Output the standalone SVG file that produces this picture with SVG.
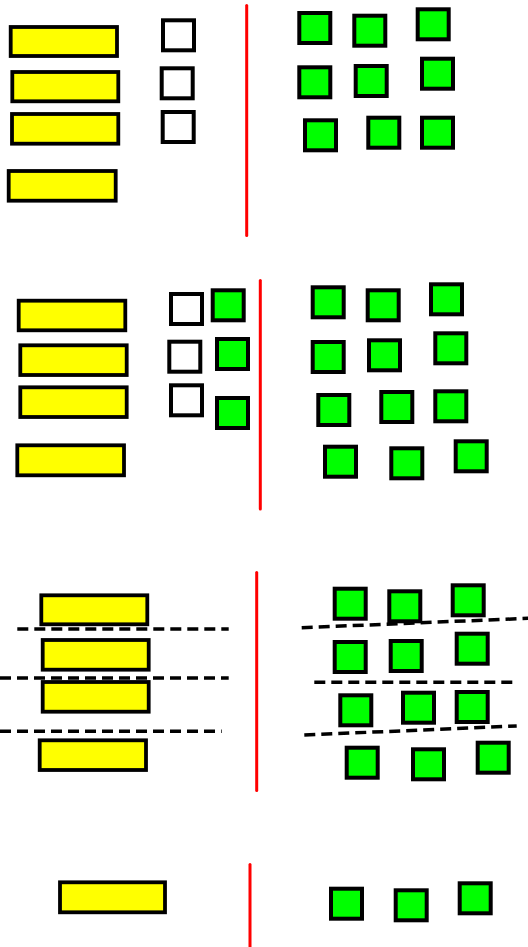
<svg xmlns="http://www.w3.org/2000/svg" width="528" height="947" viewBox="0 0 528 947">
<style>
.y{fill:#ffff00;stroke:#000;stroke-width:3.8}
.w{fill:#fff;stroke:#000;stroke-width:4}
.g{fill:#00ff00;stroke:#000;stroke-width:4}
.r{stroke:#ff0000;stroke-width:3;stroke-linecap:round;fill:none}
.d{stroke:#000;stroke-width:3.5;stroke-dasharray:11 6;fill:none}
</style>
<rect width="528" height="947" fill="#fff"/>
<g id="panel1">
<g id="p1y1"><rect class="y" x="10.7" y="27" width="106.3" height="29"/></g>
<g id="p1y2"><rect class="y" x="12.3" y="72" width="106" height="29.3"/></g>
<g id="p1y3"><rect class="y" x="12" y="114" width="106.3" height="29.7"/></g>
<g id="p1y4"><rect class="y" x="8.7" y="171" width="107" height="29.7"/></g>
<g id="p1w1"><rect class="w" x="163" y="20.3" width="31" height="30"/></g>
<g id="p1w2"><rect class="w" x="161.7" y="68.3" width="31" height="30"/></g>
<g id="p1w3"><rect class="w" x="162.7" y="112" width="31" height="30"/></g>
<g id="p1g1"><rect class="g" x="299.3" y="13" width="31" height="30"/></g>
<g id="p1g2"><rect class="g" x="354.3" y="15.7" width="31" height="30"/></g>
<g id="p1g3"><rect class="g" x="417.7" y="9.3" width="31" height="30"/></g>
<g id="p1g4"><rect class="g" x="299.3" y="67.3" width="31" height="30"/></g>
<g id="p1g5"><rect class="g" x="355.7" y="66" width="31" height="30"/></g>
<g id="p1g6"><rect class="g" x="422" y="58.7" width="31" height="30"/></g>
<g id="p1g7"><rect class="g" x="305" y="120.3" width="31" height="30"/></g>
<g id="p1g8"><rect class="g" x="368.3" y="117.7" width="31" height="30"/></g>
<g id="p1g9"><rect class="g" x="422" y="117.7" width="31" height="30"/></g>
</g>
<g id="panel2">
<g id="p2y1"><rect class="y" x="18.7" y="300.7" width="106.6" height="29.6"/></g>
<g id="p2y2"><rect class="y" x="20.3" y="345.3" width="106.4" height="29.7"/></g>
<g id="p2y3"><rect class="y" x="20.3" y="387.3" width="106.4" height="29.7"/></g>
<g id="p2y4"><rect class="y" x="17.3" y="445.3" width="106.7" height="30"/></g>
<g id="p2w1"><rect class="w" x="171" y="294" width="31" height="30"/></g>
<g id="p2w2"><rect class="w" x="169.3" y="341.7" width="31" height="30"/></g>
<g id="p2w3"><rect class="w" x="171" y="385.3" width="31" height="30"/></g>
<g id="p2ga"><rect class="g" x="212.7" y="290.3" width="31" height="30"/></g>
<g id="p2gb"><rect class="g" x="217" y="339" width="31" height="30"/></g>
<g id="p2gc"><rect class="g" x="217" y="398" width="31" height="30"/></g>
<g id="p2g1"><rect class="g" x="312.7" y="287.3" width="31" height="30"/></g>
<g id="p2g2"><rect class="g" x="367.7" y="290.3" width="31" height="30"/></g>
<g id="p2g3"><rect class="g" x="431" y="284.3" width="31" height="30"/></g>
<g id="p2g4"><rect class="g" x="312.7" y="342" width="31" height="30"/></g>
<g id="p2g5"><rect class="g" x="369" y="340.3" width="31" height="30"/></g>
<g id="p2g6"><rect class="g" x="435.3" y="333.3" width="31" height="30"/></g>
<g id="p2g7"><rect class="g" x="318.3" y="395" width="31" height="30"/></g>
<g id="p2g8"><rect class="g" x="381.3" y="392" width="31" height="30"/></g>
<g id="p2g9"><rect class="g" x="435.3" y="391.3" width="31" height="30"/></g>
<g id="p2g10"><rect class="g" x="325" y="446.7" width="31" height="30"/></g>
<g id="p2g11"><rect class="g" x="391.3" y="448.3" width="31" height="30"/></g>
<g id="p2g12"><rect class="g" x="455.7" y="441.3" width="31" height="30"/></g>
</g>
<g id="panel3">
<g id="p3y1"><rect class="y" x="41.3" y="595.3" width="106" height="29"/></g>
<g id="p3y2"><rect class="y" x="42.7" y="640" width="106" height="29.7"/></g>
<g id="p3y3"><rect class="y" x="42.7" y="682" width="106" height="29.7"/></g>
<g id="p3y4"><rect class="y" x="39.7" y="740.3" width="106.3" height="29.7"/></g>
<g id="p3g1"><rect class="g" x="334.7" y="588.7" width="31" height="30"/></g>
<g id="p3g2"><rect class="g" x="389.3" y="591.3" width="31" height="30"/></g>
<g id="p3g3"><rect class="g" x="452.7" y="585.3" width="31" height="30"/></g>
<g id="p3g4"><rect class="g" x="334.7" y="642" width="31" height="30"/></g>
<g id="p3g5"><rect class="g" x="390.7" y="641" width="31" height="30"/></g>
<g id="p3g6"><rect class="g" x="456.7" y="633.7" width="31" height="30"/></g>
<g id="p3g7"><rect class="g" x="340.3" y="695.3" width="31" height="30"/></g>
<g id="p3g8"><rect class="g" x="403" y="692.7" width="31" height="30"/></g>
<g id="p3g9"><rect class="g" x="456.7" y="692" width="31" height="30"/></g>
<g id="p3g10"><rect class="g" x="346.7" y="747.7" width="31" height="30"/></g>
<g id="p3g11"><rect class="g" x="413" y="749.3" width="31" height="30"/></g>
<g id="p3g12"><rect class="g" x="477.7" y="742.7" width="31" height="30"/></g>
</g>
<g id="panel4">
<g id="p4y1"><rect class="y" x="60" y="882.3" width="105" height="30"/></g>
<g id="p4g1"><rect class="g" x="331" y="888.7" width="31" height="30"/></g>
<g id="p4g2"><rect class="g" x="395.7" y="890.3" width="31" height="30"/></g>
<g id="p4g3"><rect class="g" x="459.7" y="883.3" width="31" height="30"/></g>
</g>
<g id="connectors">
<line class="r" x1="246.7" y1="5.5" x2="246.7" y2="235.5"/>
<line class="r" x1="260.3" y1="280.5" x2="260.3" y2="509"/>
<line class="r" x1="256.7" y1="572.5" x2="256.7" y2="790.5"/>
<line class="r" x1="250" y1="864.5" x2="250" y2="950"/>
<line class="d" x1="17.3" y1="629" x2="228.7" y2="629"/>
<line class="d" x1="0" y1="678" x2="228.7" y2="678"/>
<line class="d" x1="0" y1="731.3" x2="221.7" y2="731.3"/>
<line class="d" x1="301.7" y1="627.7" x2="528.3" y2="618.3"/>
<line class="d" x1="314.3" y1="682.3" x2="517.3" y2="682.3"/>
<line class="d" x1="304.3" y1="735" x2="516.7" y2="726"/>
</g>
</svg>
